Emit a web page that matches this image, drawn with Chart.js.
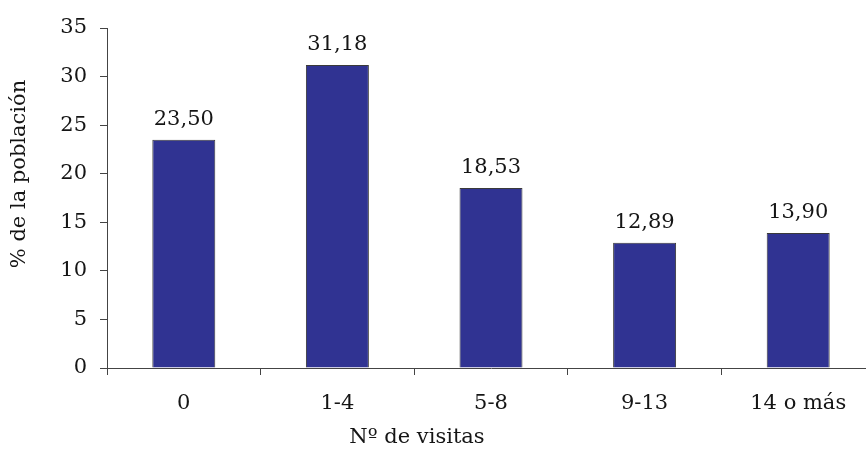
<!DOCTYPE html>
<html>
<head>
<meta charset="utf-8">
<script src="https://cdn.jsdelivr.net/npm/chart.js@4.4.1/dist/chart.umd.min.js"></script>
<style>
  html, body { margin: 0; padding: 0; background: #fff; overflow: hidden; }
  #wrap { width: 866px; height: 452px; overflow: hidden; position: relative; }
  #box { width: 876px; height: 452px; position: absolute; left: 0; top: 0; }
</style>
</head>
<body>
<div id="wrap"><div id="box"><canvas id="c"></canvas></div></div>
<script>
const categories = ['0', '1-4', '5-8', '9-13', '14 o más'];
const poblacion = [23.50, 31.18, 18.53, 12.89, 13.90];
const yTicks = [0, 5, 10, 15, 20, 25, 30, 35];
const xTitle = 'Nº de visitas';
const yTitle = '% de la población';

const FONT = '"DejaVu Serif", "Liberation Serif", serif';
const SIZE = 21;
const INK = '#151515';
const AXIS = '#444444';

// Value labels above each bar, written with a decimal comma
const valueLabels = {
  id: 'valueLabels',
  afterDatasetsDraw(chart) {
    const ctx = chart.ctx;
    const meta = chart.getDatasetMeta(0);
    ctx.save();
    ctx.font = SIZE + 'px ' + FONT;
    ctx.fillStyle = INK;
    ctx.textAlign = 'center';
    ctx.textBaseline = 'alphabetic';
    meta.data.forEach((bar, i) => {
      const txt = poblacion[i].toFixed(2).replace('.', ',');
      ctx.fillText(txt, bar.x, bar.y - 15);
    });
    ctx.restore();
  }
};

// Axis titles
const axisTitles = {
  id: 'axisTitles',
  afterDraw(chart) {
    const ctx = chart.ctx;
    ctx.save();
    ctx.font = SIZE + 'px ' + FONT;
    ctx.fillStyle = INK;
    ctx.textAlign = 'center';
    ctx.textBaseline = 'middle';
    ctx.fillText(xTitle, 417, 438);
    ctx.translate(20, 174);
    ctx.rotate(-Math.PI / 2);
    ctx.fillText(yTitle, 0, 0);
    ctx.restore();
  }
};

new Chart(document.getElementById('c'), {
  type: 'bar',
  data: {
    labels: categories,
    datasets: [{
      data: poblacion,
      backgroundColor: '#303392',
      borderColor: '#3a3a3a',
      borderWidth: 1,
      barPercentage: 0.41,
      categoryPercentage: 1.0
    }]
  },
  options: {
    responsive: true,
    maintainAspectRatio: false,
    animation: false,
    devicePixelRatio: 1,
    layout: { padding: { top: 28, right: 1, left: 0, bottom: 0 } },
    plugins: {
      legend: { display: false },
      tooltip: { enabled: false },
      title: { display: false }
    },
    scales: {
      x: {
        offset: true,
        grid: {
          offset: true,
          drawOnChartArea: false,
          drawTicks: true,
          tickLength: 7,
          color: AXIS,
          tickColor: AXIS
        },
        border: { display: true, color: AXIS, width: 1 },
        ticks: {
          color: INK,
          font: { family: FONT, size: SIZE },
          padding: 16,
          maxRotation: 0
        },
        afterFit(scale) { scale.height = 84; }
      },
      y: {
        min: 0,
        max: 35,
        afterBuildTicks(scale) { scale.ticks = yTicks.map(v => ({ value: v })); },
        grid: {
          drawOnChartArea: false,
          drawTicks: true,
          tickLength: 7,
          color: AXIS,
          tickColor: AXIS
        },
        border: { display: true, color: AXIS, width: 1 },
        ticks: {
          color: INK,
          font: { family: FONT, size: SIZE },
          padding: 13
        },
        afterFit(scale) { scale.width = 107; }
      }
    }
  },
  plugins: [valueLabels, axisTitles]
});
</script>
</body>
</html>
